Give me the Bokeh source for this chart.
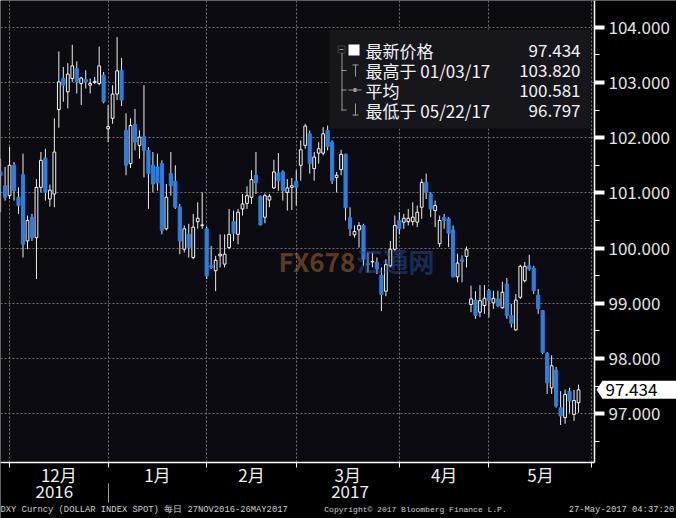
from bokeh.plotting import figure
from bokeh.models import (ColumnDataSource, FixedTicker, LinearAxis, Range1d, Label,
                          BoxAnnotation, PolyAnnotation, NumeralTickFormatter, Grid)
from bokeh.embed import file_html
from bokeh.resources import INLINE

# ---------------- data (DXY daily, 28 Nov 2016 - 26 May 2017, weekdays) ----------------
opens = [101.38, 101.13, 100.95, 101.50, 100.92, 101.33, 100.13, 100.56, 100.19, 101.10,
         101.63, 100.89, 100.98, 102.51, 103.07, 102.83, 103.07, 103.25, 102.98, 103.05,
         102.95, 103.00, 102.98, 103.13, 102.16, 102.35, 102.79, 103.22, 102.13, 101.53,
         102.24, 101.86, 102.02, 101.77, 101.50, 101.47, 101.53, 100.35, 101.35, 101.21,
         100.75, 99.98, 100.25, 99.83, 100.48, 100.41, 100.35, 99.68, 99.59, 99.86,
         99.71, 100.01, 100.48, 100.25, 100.71, 100.81, 100.92, 101.32, 100.94, 100.56,
         100.87, 101.09, 101.36, 101.38, 101.01, 101.10, 101.21, 101.50, 101.86, 102.07,
         101.44, 101.72, 101.72, 102.13, 101.92, 101.28, 101.42, 101.70, 100.55, 100.24,
         100.33, 100.41, 99.72, 99.75, 99.74, 99.51, 99.22, 99.68, 99.98, 100.50,
         100.47, 100.48, 100.48, 100.47, 100.74, 101.19, 100.98, 100.68, 100.08, 100.56,
         100.53, 100.33, 99.48, 99.80, 99.85, 98.98, 99.06, 98.84, 98.96, 99.23,
         99.01, 99.08, 98.92, 99.35, 98.78, 98.52, 99.11, 99.41, 99.68, 99.64,
         99.15, 98.87, 98.09, 97.47, 97.79, 97.11, 96.93, 97.41, 96.99, 97.20]
highs = [101.62, 101.47, 101.83, 101.56, 101.10, 101.71, 100.59, 100.62, 101.25, 101.74,
         101.80, 101.15, 102.35, 103.56, 103.28, 103.35, 103.68, 103.38, 103.10, 103.22,
         103.07, 103.10, 103.65, 103.19, 102.59, 102.95, 103.82, 103.44, 102.44, 102.35,
         102.52, 102.13, 102.95, 101.83, 101.74, 101.71, 101.59, 101.16, 101.74, 101.50,
         100.80, 100.41, 100.44, 100.62, 100.83, 101.01, 100.39, 100.04, 99.86, 100.25,
         100.25, 100.71, 100.68, 100.71, 100.98, 101.12, 101.41, 101.74, 100.95, 100.99,
         100.98, 101.60, 101.72, 101.41, 101.25, 101.27, 101.41, 101.95, 102.25, 102.13,
         101.74, 101.92, 102.19, 102.22, 101.95, 101.38, 101.78, 101.71, 100.74, 100.41,
         100.47, 100.44, 99.92, 99.92, 99.83, 99.65, 99.80, 100.13, 100.59, 100.65,
         100.62, 100.71, 100.83, 100.77, 101.25, 101.35, 101.01, 100.86, 100.59, 100.62,
         100.56, 100.41, 99.90, 99.87, 100.03, 99.32, 99.22, 99.33, 99.33, 99.26,
         99.23, 99.23, 99.39, 99.46, 98.99, 99.17, 99.70, 99.75, 99.88, 99.68,
         99.26, 98.88, 98.12, 98.06, 97.85, 97.41, 97.44, 97.47, 97.43, 97.53]
lows = [100.65, 100.86, 100.89, 100.86, 100.62, 99.83, 99.98, 100.13, 99.44, 101.01,
        100.86, 100.75, 100.74, 102.18, 102.65, 102.53, 103.01, 102.80, 102.59, 102.89,
        102.80, 102.97, 102.95, 102.62, 101.92, 102.25, 102.68, 102.57, 101.32, 101.45,
        101.77, 101.62, 101.28, 100.71, 101.01, 101.04, 100.25, 100.32, 100.95, 100.71,
        99.89, 99.92, 99.83, 99.80, 100.35, 100.35, 99.44, 99.62, 99.22, 99.65,
        99.65, 99.98, 100.13, 100.07, 100.59, 100.71, 100.80, 100.98, 100.41, 100.45,
        100.74, 101.07, 101.04, 100.86, 100.68, 100.69, 100.77, 101.22, 101.80, 101.35,
        101.22, 101.53, 101.68, 101.77, 101.16, 101.01, 101.32, 100.50, 100.22, 100.19,
        100.01, 99.68, 99.56, 99.65, 99.53, 98.86, 99.13, 99.65, 99.95, 100.25,
        100.35, 100.41, 100.41, 100.38, 100.53, 100.89, 100.56, 100.38, 100.02, 100.35,
        100.02, 99.47, 99.38, 99.38, 99.65, 98.84, 98.72, 98.75, 98.81, 98.75,
        98.90, 98.93, 98.90, 98.72, 98.56, 98.50, 99.08, 99.38, 99.59, 99.17,
        98.81, 98.08, 97.36, 97.36, 97.11, 96.797, 96.82, 97.02, 96.87, 97.02]
closes = [101.32, 100.92, 101.50, 101.04, 100.77, 100.07, 100.50, 100.19, 101.10, 101.59,
          101.01, 101.05, 101.74, 103.01, 102.95, 103.15, 103.30, 103.01, 103.08, 103.01,
          102.98, 103.02, 103.30, 102.65, 102.20, 102.79, 103.21, 102.68, 101.50, 102.22,
          101.92, 102.01, 101.77, 101.35, 101.16, 101.18, 100.32, 100.92, 101.13, 100.74,
          100.13, 100.35, 100.01, 100.38, 100.54, 100.42, 99.50, 99.65, 99.78, 99.89,
          99.89, 100.25, 100.27, 100.65, 100.80, 100.95, 101.24, 101.18, 100.42, 100.95,
          100.94, 101.38, 101.22, 101.04, 101.09, 101.13, 101.10, 101.78, 102.21, 101.53,
          101.65, 101.80, 102.07, 101.84, 101.22, 101.32, 101.70, 100.73, 100.35, 100.30,
          100.41, 99.80, 99.70, 99.76, 99.62, 99.16, 99.70, 99.98, 100.41, 100.35,
          100.54, 100.54, 100.56, 100.65, 101.19, 101.01, 100.71, 100.77, 100.50, 100.50,
          100.27, 99.48, 99.73, 99.76, 99.97, 99.08, 98.78, 99.05, 99.09, 99.05,
          99.09, 98.96, 99.20, 98.78, 98.64, 99.06, 99.67, 99.67, 99.62, 99.23,
          98.90, 98.11, 97.56, 97.87, 97.14, 96.96, 97.35, 97.23, 97.24, 97.434]

month_labels = ["12月", "1月", "2月", "3月", "4月", "5月"]
month_bounds = [2, 24, 46, 66, 89, 109, 132]      # weekday index of each month boundary
year_labels = ["2016", "2017"]
year_ticks = [12.0, 78.0]
year_sep = [24]
y_ticks = [97, 98, 99, 100, 101, 102, 103, 104]
y_minor = [96.5, 97.5, 98.5, 99.5, 100.5, 101.5, 102.5, 103.5]
legend_names = ["最新价格", "最高于 01/03/17", "平均", "最低于 05/22/17"]
legend_values = ["97.434", "103.820", "100.581", "96.797"]
last_price = 97.434
footer_texts = ["DXY Curncy (DOLLAR INDEX SPOT)  每日 27NOV2016-26MAY2017",
                "Copyright© 2017 Bloomberg Finance L.P.",
                "27-May-2017 04:37:20"]

# ---------------- layout (canvas pixels -> data units) ----------------
W, H = 676, 518
PX, PY = 4.48, 55.23              # pixels per day, pixels per index point

def ix(xr):   # canvas pixel x -> index units
    return (xr - 0.1) / PX

def vy(yr):   # canvas pixel y -> value units
    return 104 - (yr - 26.7) / PY

X0, X1, XE = ix(0), ix(594), ix(W)        # chart left, chart right (axis), canvas right
Y1, Y0, YE = vy(0), vy(462), vy(H)        # chart top, chart bottom (axis), canvas bottom
FONT = "Noto Sans CJK SC"
BG = "#0b0b11"

p = figure(width=W, height=H, x_range=Range1d(X0, XE), y_range=Range1d(YE, Y1),
           output_backend="svg", toolbar_location=None, x_axis_type=None, y_axis_type=None,
           min_border=0)
p.background_fill_color = "#000000"
p.border_fill_color = "#000000"
p.outline_line_color = None

# chart area background
p.add_layout(BoxAnnotation(left=X0, right=X1, bottom=Y0, top=Y1, fill_color=BG,
                           fill_alpha=1.0, line_color=None, level="image"))

# grids
xg = Grid(dimension=0, ticker=FixedTicker(ticks=month_bounds))
yg = Grid(dimension=1, ticker=FixedTicker(ticks=y_ticks))
for g in (xg, yg):
    g.grid_line_color = "#707074"
    g.grid_line_dash = "2 2"
    g.grid_line_width = 1
    p.add_layout(g)
# keep grid lines inside the chart area
p.add_layout(BoxAnnotation(left=X0, right=XE, bottom=YE, top=Y0, fill_color="#000000",
                           fill_alpha=1.0, line_color=None, level="underlay"))
p.add_layout(BoxAnnotation(left=X1, right=XE, bottom=YE, top=Y1, fill_color="#000000",
                           fill_alpha=1.0, line_color=None, level="underlay"))

# candles
idx = list(range(len(opens)))
up = dict(x=[], top=[], bottom=[])
dn = dict(x=[], top=[], bottom=[])
for i, o, c in zip(idx, opens, closes):
    d = up if c >= o else dn
    d["x"].append(i)
    d["top"].append(max(o, c))
    d["bottom"].append(min(o, c))
wick = ColumnDataSource(dict(x=idx, h=highs, l=lows))
p.segment(x0="x", y0="h", x1="x", y1="l", source=wick, line_color="#ececec", line_width=1)
p.vbar(x="x", top="top", bottom="bottom", width=0.7, source=ColumnDataSource(dn),
       fill_color="#2c7fe0", line_color="#2c7fe0", line_width=1)
p.vbar(x="x", top="top", bottom="bottom", width=0.62, source=ColumnDataSource(up),
       fill_color=BG, line_color="#f4f4f4", line_width=1)

# right value axis
ra = LinearAxis(fixed_location=X1, bounds=(Y0, Y1),
                ticker=FixedTicker(ticks=y_ticks, minor_ticks=y_minor),
                formatter=NumeralTickFormatter(format="0.000"))
ra.axis_line_color = "#ffffff"
ra.axis_line_width = 1.5
ra.major_tick_line_color = "#ffffff"
ra.major_tick_line_width = 4
ra.major_tick_out = 10
ra.major_tick_in = 0
ra.minor_tick_line_color = "#ffffff"
ra.minor_tick_out = 5
ra.minor_tick_in = 0
ra.major_label_standoff = 4
ra.major_label_text_color = "#e4e4e4"
ra.major_label_text_font = FONT
ra.major_label_text_font_size = "17px"
p.add_layout(ra, "right")

# time axis line with month boundary ticks
xa = LinearAxis(fixed_location=Y0, bounds=(X0, X1),
                ticker=FixedTicker(ticks=[], minor_ticks=month_bounds))
xa.axis_line_color = "#ffffff"
xa.axis_line_width = 1.5
xa.major_tick_line_color = None
xa.minor_tick_out = 5
xa.minor_tick_in = 0
xa.minor_tick_line_color = "#ffffff"
p.add_layout(xa, "below")

def label_axis(loc_px, ticks, labels, size, color, font=FONT):
    ax = LinearAxis(fixed_location=vy(loc_px), bounds=(X0, XE),
                    ticker=FixedTicker(ticks=ticks),
                    major_label_overrides={t: s for t, s in zip(ticks, labels)})
    ax.axis_line_color = None
    ax.major_tick_line_color = None
    ax.minor_tick_line_color = None
    ax.major_tick_out = 0
    ax.major_tick_in = 0
    ax.minor_tick_out = 0
    ax.minor_tick_in = 0
    ax.major_label_standoff = 0
    ax.major_label_text_color = color
    ax.major_label_text_font = font
    ax.major_label_text_font_size = size
    p.add_layout(ax, "below")

# month names, years, footer
month_mids = [(month_bounds[k] + month_bounds[k + 1]) / 2 for k in range(len(month_labels))]
label_axis(461, month_mids, month_labels, "17px", "#f0f0f0")
label_axis(484, year_ticks, year_labels, "17px", "#f0f0f0")
label_axis(504, [ix(143), ix(621)], [footer_texts[0], footer_texts[2]], "8.8px",
           "#d0d0d0", font="Liberation Mono")
label_axis(504.5, [ix(415)], [footer_texts[1]], "8px", "#d0d0d0", font="Liberation Mono")

# year separator
sep = LinearAxis(fixed_location=vy(483), bounds=(X0, X1),
                 ticker=FixedTicker(ticks=[], minor_ticks=year_sep))
sep.axis_line_color = None
sep.major_tick_line_color = None
sep.minor_tick_out = 19
sep.minor_tick_in = 0
sep.minor_tick_line_color = "#a0a0a0"
p.add_layout(sep, "below")

# watermark
p.add_layout(Label(x=ix(278), y=vy(260), text="FX678", text_baseline="middle",
                   text_color="#c87a32", text_alpha=0.45, text_font=FONT,
                   text_font_size="26px", text_font_style="bold"))
p.add_layout(Label(x=ix(356), y=vy(260), text="汇通网", text_baseline="middle",
                   text_color="#2858a8", text_alpha=0.45, text_font=FONT,
                   text_font_size="26px", text_font_style="bold"))

# legend box
p.add_layout(BoxAnnotation(left=ix(329), right=ix(590), top=vy(29), bottom=vy(128),
                           fill_color="#16161b", fill_alpha=1.0, line_color=None))
rows_y = [50, 70, 89.5, 109.5]
for name, val, ry in zip(legend_names, legend_values, rows_y):
    p.add_layout(Label(x=ix(365), y=vy(ry), text=name, text_baseline="middle",
                       text_align="left", text_color="#f2f2f2", text_font=FONT,
                       text_font_size="17px"))
    p.add_layout(Label(x=ix(580), y=vy(ry), text=val, text_baseline="middle",
                       text_align="right", text_color="#f2f2f2", text_font=FONT,
                       text_font_size="17px"))

GR = "#9a9a9a"
def rbox(x0, x1, y0, y1, color=GR, fill=True):
    if fill:
        p.add_layout(BoxAnnotation(left=ix(x0), right=ix(x1), top=vy(y0), bottom=vy(y1),
                                   fill_color=color, fill_alpha=1.0, line_color=None))
    else:
        p.add_layout(BoxAnnotation(left=ix(x0), right=ix(x1), top=vy(y0), bottom=vy(y1),
                                   fill_color=None, fill_alpha=0, line_color=color,
                                   line_width=1))

rbox(337.5, 344.5, 45.5, 52.5, fill=False)     # collapse box
rbox(339, 343, 48.5, 49.5)
rbox(341, 342, 52.5, 110)                       # tree line
for ry in rows_y[1:]:
    rbox(341, 346, ry - 0.5, ry + 0.5)
rbox(348, 359, 44, 55, color="#ffffff")         # last price square
rbox(352, 358, 64, 65)                          # high marker
rbox(354.5, 355.5, 64, 76)
rbox(348, 361, 89, 90)                          # average marker
rbox(353, 356, 87.5, 91.5)
rbox(354.5, 355.5, 103, 115)                    # low marker
rbox(352, 358, 114, 115)

# last price tag on the axis
tag_y = 26.7 + (104 - last_price) * PY
p.add_layout(PolyAnnotation(xs=[ix(596), ix(602), ix(W), ix(W), ix(602)],
                            ys=[last_price, vy(tag_y - 9), vy(tag_y - 9), vy(tag_y + 9),
                                vy(tag_y + 9)],
                            fill_color="#ffffff", fill_alpha=1.0, line_color=None))
p.add_layout(Label(x=ix(605), y=last_price, text=f"{last_price:.3f}",
                   text_baseline="middle", text_align="left", text_color="#000000",
                   text_font=FONT, text_font_size="17px"))

open("out.html", "w").write(file_html(p, INLINE))
